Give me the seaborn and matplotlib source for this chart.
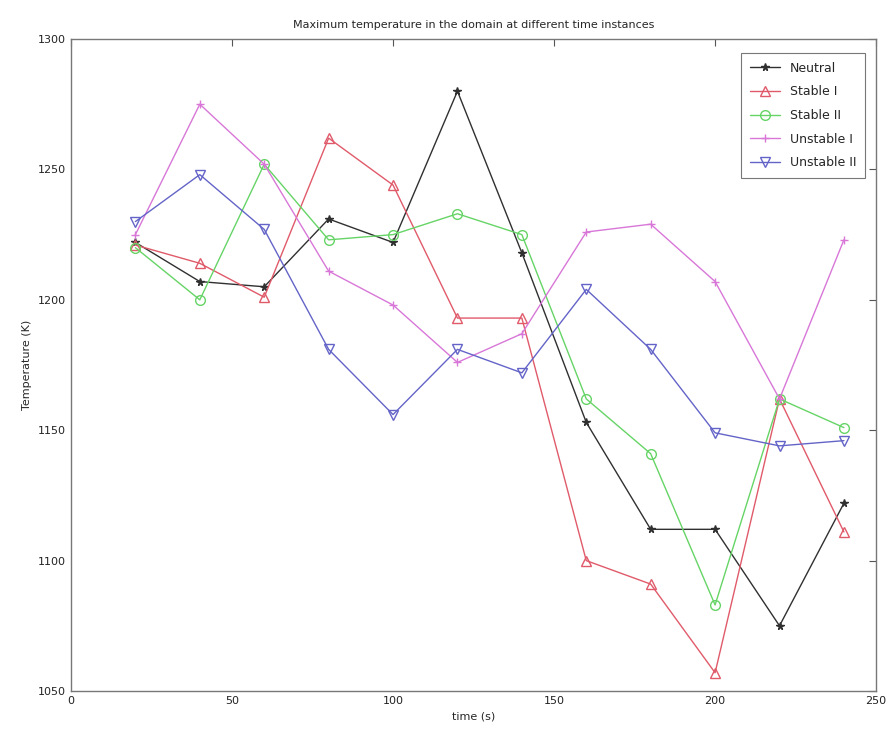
import pandas as pd
import seaborn as sns
import matplotlib.pyplot as plt

# time instances (s)
time = [20, 40, 60, 80, 100, 120, 140, 160, 180, 200, 220, 240]

# maximum temperature (K) per case
neutral = [1222, 1207, 1205, 1231, 1222, 1280, 1218, 1153, 1112, 1112, 1075, 1122]
stable_1 = [1221, 1214, 1201, 1262, 1244, 1193, 1193, 1100, 1091, 1057, 1162, 1111]
stable_2 = [1220, 1200, 1252, 1223, 1225, 1233, 1225, 1162, 1141, 1083, 1162, 1151]
unstable_1 = [1225, 1275, 1252, 1211, 1198, 1176, 1187, 1226, 1229, 1207, 1162, 1223]
unstable_2 = [1230, 1248, 1227, 1181, 1156, 1181, 1172, 1204, 1181, 1149, 1144, 1146]

names = ["Neutral", "Stable I", "Stable II", "Unstable I", "Unstable II"]
series = [neutral, stable_1, stable_2, unstable_1, unstable_2]
colors = ["#303030", "#e05a6a", "#66d466", "#d877d8", "#6464c8"]
marks = ["*", "^", "o", "+", "v"]

sns.set_style("white")
fig = plt.figure(figsize=(8.94, 7.46), dpi=100)
ax = fig.add_axes([0.0794, 0.0737, 0.9006, 0.874])

for name, vals, c, m in zip(names, series, colors, marks):
    df = pd.DataFrame({"time": time, "temp": vals})
    if m == "*":
        kw = dict(markersize=5.5, markerfacecolor=c, markeredgecolor=c)
    elif m == "+":
        kw = dict(markersize=5.5, markeredgecolor=c)
    else:
        kw = dict(markersize=7, markerfacecolor="none", markeredgecolor=c)
    sns.lineplot(data=df, x="time", y="temp", color=c, marker=m, linewidth=1.0,
                 markeredgewidth=1.0, label=name, ax=ax, **kw)

ax.set_xlim(0, 250)
ax.set_ylim(1050, 1300)
ax.set_xticks([0, 50, 100, 150, 200, 250])
ax.set_yticks([1050, 1100, 1150, 1200, 1250, 1300])
ax.tick_params(direction="in", top=True, right=True, labelsize=8, length=5,
               color="#555555", labelcolor="#222222")
for s in ax.spines.values():
    s.set_color("#777777")
    s.set_linewidth(1.0)

ax.set_title("Maximum temperature in the domain at different time instances",
             fontsize=8, pad=8)
ax.set_xlabel("time (s)", fontsize=8)
ax.set_ylabel("Temperature (K)", fontsize=8)

leg = ax.legend(loc="upper right", fontsize=9, frameon=True, fancybox=False,
                edgecolor="#555555", borderpad=0.7, labelspacing=0.85,
                handlelength=2.4, bbox_to_anchor=(0.994, 0.988))
leg.get_frame().set_linewidth(0.8)

fig.savefig("out.png", dpi=100)
